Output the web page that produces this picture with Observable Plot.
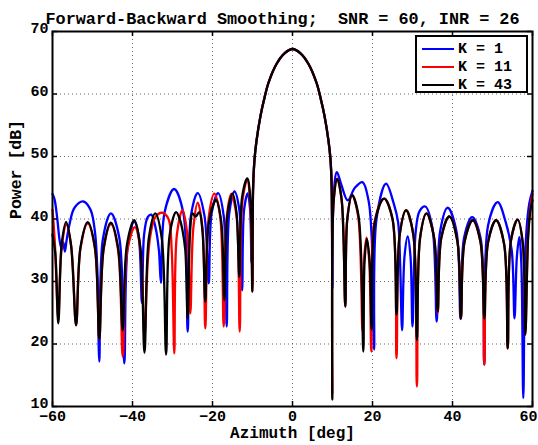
<!DOCTYPE html>
<html><head><meta charset="utf-8">
<script src="https://cdn.jsdelivr.net/npm/d3@7"></script>
<script src="https://cdn.jsdelivr.net/npm/@observablehq/plot@0.6"></script>
<style>
body{margin:0;background:#fff;}
#wrap{position:relative;width:538px;height:445px;font-family:"Liberation Mono",monospace;font-weight:bold;}
#legend{position:absolute;left:415px;top:35px;width:109px;height:54px;border:2px solid #000;background:#fff;}
.row{position:absolute;left:5px;height:18px;display:flex;align-items:center;font-size:15px;white-space:pre;}
.row svg{margin-right:4px;display:block;}
</style></head>
<body><div id="wrap"></div>
<script>
const titleText = "Forward-Backward Smoothing;  SNR = 60, INR = 26";
const xLabel = "Azimuth [deg]";
const yLabel = "Power [dB]";
const xTicks = [-60,-40,-20,0,20,40,60];
const yTicks = [10,20,30,40,50,60,70];
const seriesNames = ["K = 1","K = 11","K = 43"];
const seriesColors = ["#0000ff","#ff0000","#000000"];

// [azimuth deg, power dB]
const mainLobe = [[-9.85,45],[-9.5,49.5],[-9,52.5],[-8,56.5],[-7,59.4],[-6,61.8],[-4,64.8],[-2,66.5],[0,67.2],[2,66.5],[4,64.8],[6,61.8],[7,59.4],[8,56.5],[9,52.5],[9.5,49.5],[9.8,45]];

const k1Left = [
[-60,44],[-59.5,43.2],[-58.8,40],[-58.2,36.5],[-57.7,35.2],[-57.3,36.3],[-56.9,34.8],[-56.5,36.5],[-55.8,39],[-54.5,41.8],[-52.3,42.8],[-50.5,41.5],[-49.4,38],[-48.8,32],[-48.3,17.2],
[-47.4,36.8],[-45.4,40.9],[-43.3,37],[-42.05,16.9],
[-41.2,35.5],[-39.6,39.6],[-38.5,37.5],[-37.65,26.6],
[-37.1,37.5],[-36.2,40.3],[-35.3,40.7],[-34.2,38.5],[-33.4,35],[-32.9,29.8],
[-32.0,41],[-29.6,44.8],[-27.3,41],[-26.2,22],
[-25.4,40.5],[-23.7,44.15],[-22.0,40.5],[-20.95,29.7],
[-20.2,41],[-18.6,44.15],[-17.2,40.5],[-16.45,22.8],
[-15.8,41],[-14.5,44.4],[-13.3,41.5],[-12.6,28.6],
[-12.1,41.5],[-11.2,44.1],[-10.6,41.5],[-10.25,33]
];
const k1Right = [
[10.0,28.9],[10.3,44],[11.1,47.5],[12.2,45.5],[13.8,43],[15.6,45],[17.5,45.9],[19.0,43],[19.8,37],[20.4,19.1],
[21.0,40],[23.4,45.65],[25.3,42.5],[26.4,39.5],[26.9,33],[27.4,22.2],
[28.0,34],[28.8,37.2],[29.5,34],[30.0,22.8],
[30.8,38],[31.8,41.3],[33.2,42.0],[35.0,38.5],[36.05,23.6],
[36.9,38],[38.8,41.8],[41.0,38],[42.0,24],
[42.9,37],[44.9,40.3],[47.0,37],[47.95,16.7],
[48.9,39],[51.3,42.7],[53.3,39.5],[54.8,35],[55.5,24.1],
[56.1,34],[56.7,37.1],[57.2,33],[57.7,11.35],
[58.3,36],[59.2,42.5],[60,44.5]
];

const k11Left = [
[-60,41.5],[-59.4,36],[-58.55,24],[-57.7,35.5],[-56.5,39.1],[-55.3,35.5],[-54.1,23.0],
[-53.0,35.3],[-51.2,39.3],[-49.4,35.3],[-48.3,20.8],
[-47.2,35.2],[-45.4,39.2],[-43.6,35],[-42.45,18.0],
[-41.3,35],[-39.4,38.7],[-38.0,35],[-37.0,21.0],
[-36.2,33],[-35.5,37.5],[-34.3,40.3],[-32.6,41],[-31.0,40],[-30.2,35],[-29.55,18.5],
[-28.9,37.5],[-27.5,41.4],[-26.3,37.5],[-25.55,24.9],
[-24.8,38.5],[-23.7,42.6],[-22.5,38.5],[-21.8,22.5],
[-20.9,40.5],[-19.55,44.05],[-18.1,40.5],[-17.2,22.8],
[-16.4,40.5],[-15.3,44.0],[-14.0,40.5],[-13.2,22],
[-12.5,43],[-11.3,46.3],[-10.6,43],[-10.0,28.4]
];
const k11Right = [
[9.95,12],[10.3,43],[11.2,46.4],[12.3,43],[13.2,26],
[13.7,40],[14.9,43.8],[16.4,40.5],[17.5,22.0],
[17.9,33.5],[18.5,37.0],[19.2,33],[19.7,18.8],
[20.5,39.5],[22.9,43.25],[25.0,40],[26.0,17.7],
[26.8,37.5],[28.4,41.4],[30.2,37.5],[31.1,13.2],
[31.9,37],[33.5,40.9],[35.4,37],[36.3,25],
[37.2,37],[39.2,40.4],[41.2,36.5],[42.1,24.1],
[43.0,36.3],[45.05,39.8],[47.0,36.3],[47.95,16.7],
[48.9,36.3],[50.9,39.8],[52.9,36],[53.8,19.3],
[54.6,36.5],[56.3,39.9],[57.6,36],[58.2,21.5],
[58.9,37.5],[59.5,42],[60,44]
];

const k43Left = [
[-60,37.5],[-59.3,34.5],[-58.55,23.3],[-57.7,36],[-56.6,39.5],[-55.4,36],[-54.1,23.0],
[-53.0,35.5],[-51.2,39.5],[-49.4,35.5],[-48.3,20.8],
[-47.2,35.4],[-45.4,39.4],[-43.6,35.4],[-42.45,22.2],
[-41.4,35.8],[-39.55,39.8],[-38.1,35.8],[-37.0,18.6],
[-35.9,37],[-34.3,40.9],[-32.7,37],[-31.6,18.3],
[-30.7,37.5],[-29.1,41.1],[-28.2,40],[-27.5,38.2],[-26.8,35],[-26.2,24.1],
[-25.6,38],[-25.0,40.9],[-24.2,40.4],[-23.3,41.1],[-22.5,38],[-21.8,26.8],
[-20.9,39.5],[-19.1,43.0],[-17.8,39.5],[-17.05,27],
[-16.3,40.5],[-15.0,44.05],[-14.0,41],[-13.3,30.75],
[-12.6,43.5],[-11.3,46.5],[-10.5,43],[-10.05,28.35]
];
const k43Right = [
[9.95,11.1],[10.3,43],[11.2,46.4],[12.3,43],[13.2,26],
[13.7,40],[14.9,43.8],[16.5,40.5],[17.7,18.8],
[18.0,33],[18.6,36.8],[19.3,33],[19.8,22.3],
[20.6,39.5],[22.9,43.25],[25.0,40],[26.0,24.7],
[26.8,37.5],[28.4,41.4],[30.2,37.5],[31.1,20.65],
[31.9,37],[33.5,40.9],[35.4,37],[36.3,25.2],
[37.2,37],[39.2,40.4],[41.2,36.5],[42.1,24.1],
[43.0,36.3],[45.05,39.8],[47.0,36.3],[47.95,24.1],
[48.9,36.3],[50.9,39.8],[52.9,36],[53.8,19.3],
[54.6,36.5],[56.3,39.9],[57.6,36],[58.2,21.5],
[58.9,37],[59.5,41.5],[60,43]
];

const seriesPts = [
  [...k1Left, ...mainLobe, ...k1Right],
  [...k11Left, ...mainLobe, ...k11Right],
  [...k43Left, ...mainLobe, ...k43Right]
];

const W = 538, H = 445, mL = 52, mR = 6, mT = 31, mB = 39;
const fw = W - mL - mR, fh = H - mT - mB;
const tickLen = 5;

const lineMarks = seriesPts.map((pts, i) =>
  Plot.line(pts.map(([az, db]) => ({az, db})), {x: "az", y: "db", stroke: seriesColors[i], strokeWidth: 2.3, curve: "catmull-rom"})
);

const chart = Plot.plot({
  width: W, height: H,
  marginLeft: mL, marginRight: mR, marginTop: mT, marginBottom: mB,
  x: {domain: [-60, 60]},
  y: {domain: [10, 70]},
  style: {fontFamily: "'Liberation Mono', monospace", fontWeight: "bold", fontSize: "15px", background: "white", color: "black"},
  marks: [
    Plot.gridX(xTicks.slice(1, -1), {stroke: "#555", strokeOpacity: 0.9, strokeWidth: 1, strokeDasharray: "1,3"}),
    Plot.gridY(yTicks.slice(1, -1), {stroke: "#555", strokeOpacity: 0.9, strokeWidth: 1, strokeDasharray: "1,3"}),
    ...lineMarks,
    Plot.tickX(xTicks, {x: d => d, insetTop: fh - tickLen, stroke: "black", strokeWidth: 1.5}),
    Plot.tickX(xTicks, {x: d => d, insetBottom: fh - tickLen, stroke: "black", strokeWidth: 1.5}),
    Plot.tickY(yTicks, {y: d => d, insetRight: fw - tickLen, stroke: "black", strokeWidth: 1.5}),
    Plot.tickY(yTicks, {y: d => d, insetLeft: fw - tickLen, stroke: "black", strokeWidth: 1.5}),
    Plot.frame({stroke: "black", strokeWidth: 2}),
    Plot.axisX({ticks: xTicks.slice(0, -1), tickSize: 0, tickPadding: 4, label: null, fontSize: 15}),
    Plot.axisX({ticks: xTicks.slice(-1), tickSize: 0, tickPadding: 4, label: null, fontSize: 15, dx: -4}),
    Plot.axisY({ticks: yTicks, tickSize: 0, tickPadding: 4, label: null, fontSize: 15, dy: -3}),
    Plot.text([titleText], {frameAnchor: "top", dx: -10, dy: -19, text: d => d, fontSize: 16, fontWeight: "bold", className: "ttl"}),
    Plot.text([xLabel], {frameAnchor: "bottom", dy: 31, text: d => d, fontSize: 16, fontWeight: "bold"}),
    Plot.text([yLabel], {frameAnchor: "left", dx: -37, rotate: -90, text: d => d, fontSize: 16.5, fontWeight: "bold"})
  ]
});

const wrap = document.getElementById("wrap");
wrap.appendChild(chart);

// fit the title to the width it has in the reference
const ttl = chart.querySelector(".ttl text");
if (ttl) {
  ttl.setAttribute("textLength", "474");
  ttl.setAttribute("lengthAdjust", "spacingAndGlyphs");
}

const NS = "http://www.w3.org/2000/svg";
const legend = document.createElement("div");
legend.id = "legend";
seriesNames.forEach((name, i) => {
  const row = document.createElement("div");
  row.className = "row";
  row.style.top = (3 + i * 18) + "px";
  const sv = document.createElementNS(NS, "svg");
  sv.setAttribute("width", "32");
  sv.setAttribute("height", "6");
  const ln = document.createElementNS(NS, "line");
  ln.setAttribute("x1", "0"); ln.setAttribute("x2", "32");
  ln.setAttribute("y1", "3"); ln.setAttribute("y2", "3");
  ln.setAttribute("stroke", seriesColors[i]);
  ln.setAttribute("stroke-width", "2");
  sv.appendChild(ln);
  row.appendChild(sv);
  const t = document.createElement("span");
  t.textContent = name;
  row.appendChild(t);
  legend.appendChild(row);
});
wrap.appendChild(legend);
</script>
</body></html>
